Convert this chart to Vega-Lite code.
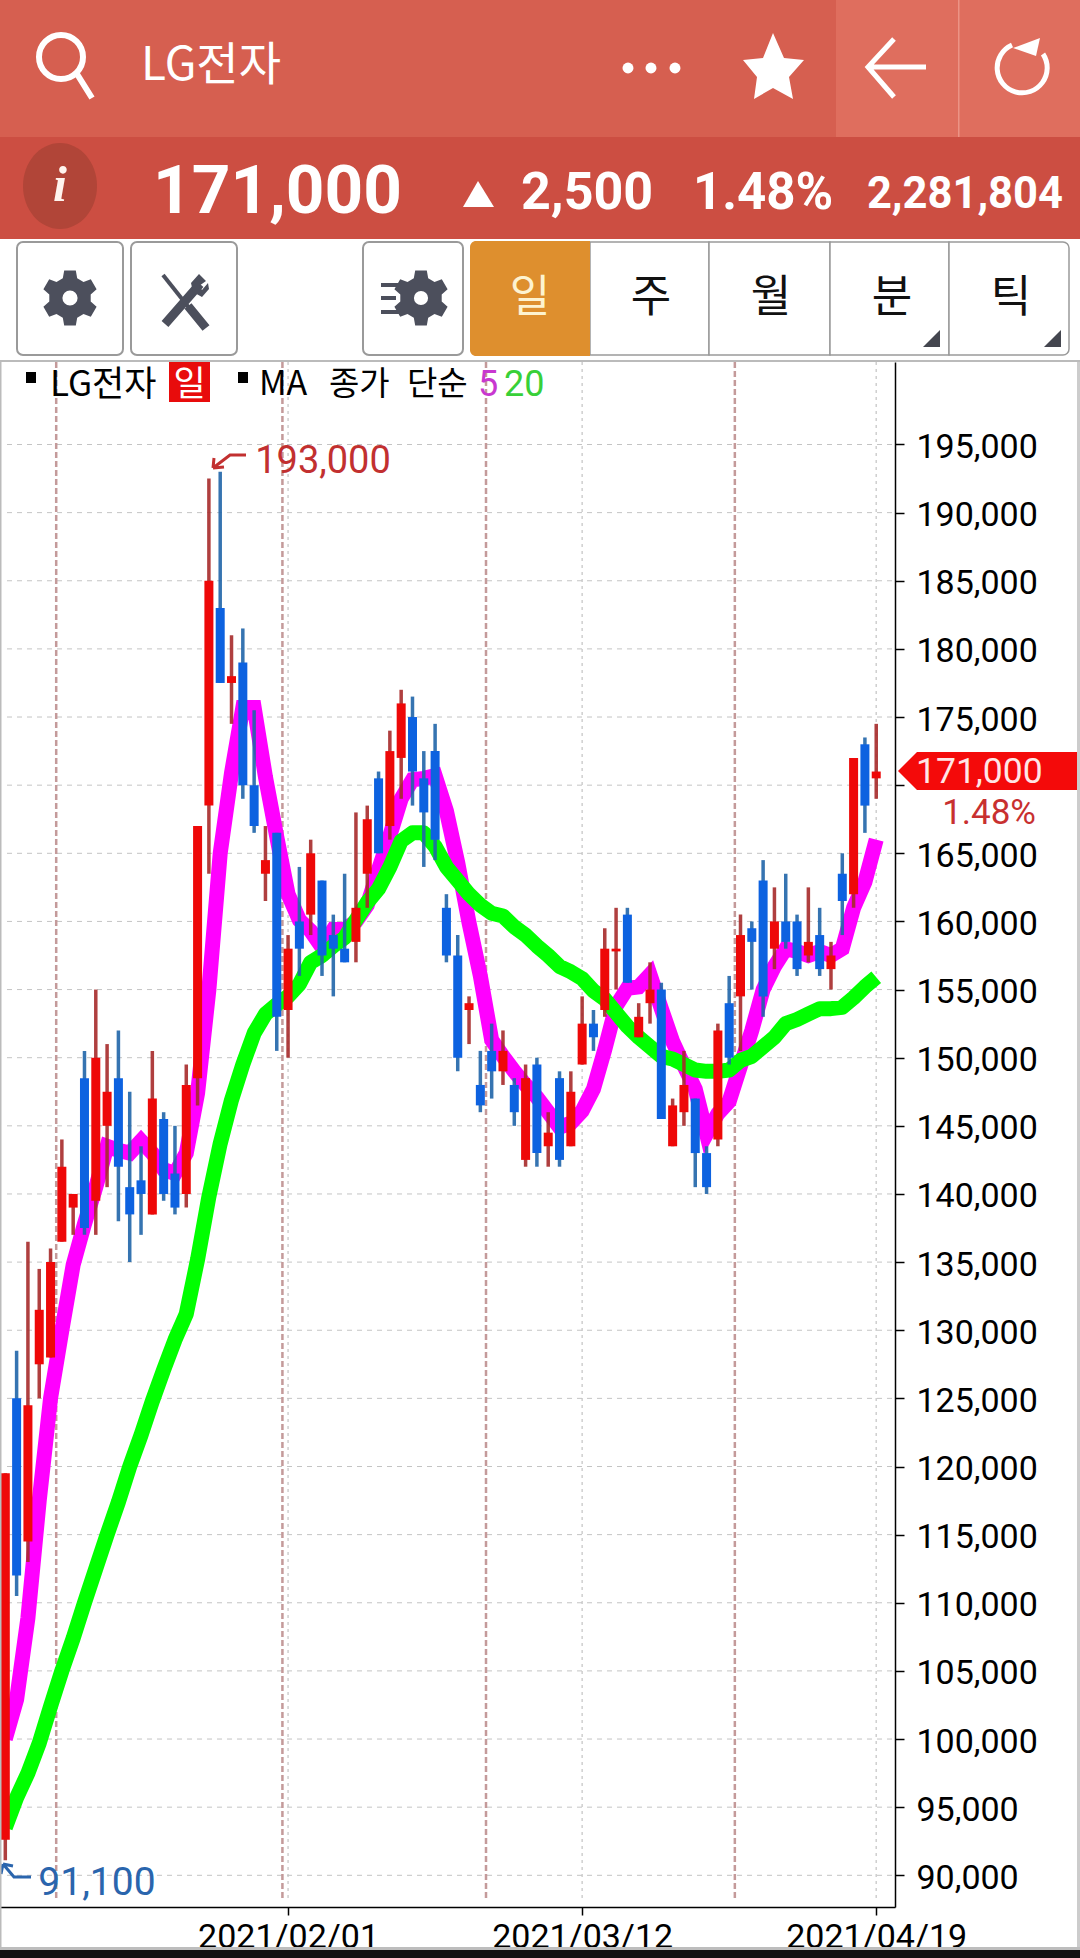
{"$schema":"https://vega.github.io/schema/vega-lite/v6.json","width":1080,"height":1958,"padding":0,"autosize":{"type":"none"},"background":"#ffffff","config":{"view":{"stroke":null},"axis":{"grid":false,"title":null}},
"resolve":{"axis":{"x":"independent","y":"independent"}},
"data":{"values":[{"k":1}]},
"datasets":{"candles":[
{"date":"2020-12-23","i":0,"open":92600,"high":119500,"low":91100,"close":119500,"ma5":100000,"ma20":93500},
{"date":"2020-12-24","i":1,"open":125000,"high":128500,"low":110500,"close":112000,"ma5":102900,"ma20":95700},
{"date":"2020-12-28","i":2,"open":114500,"high":136500,"low":113000,"close":124500,"ma5":108900,"ma20":97500},
{"date":"2020-12-29","i":3,"open":127500,"high":134500,"low":125000,"close":131500,"ma5":117500,"ma20":99700},
{"date":"2020-12-30","i":4,"open":128000,"high":136000,"low":128000,"close":135000,"ma5":125000,"ma20":102400},
{"date":"2021-01-04","i":5,"open":136500,"high":144000,"low":136500,"close":142000,"ma5":130000,"ma20":105000},
{"date":"2021-01-05","i":6,"open":139000,"high":140000,"low":137000,"close":140000,"ma5":134800,"ma20":107400},
{"date":"2021-01-06","i":7,"open":148500,"high":150500,"low":137000,"close":137500,"ma5":137800,"ma20":110000},
{"date":"2021-01-07","i":8,"open":139500,"high":155000,"low":137000,"close":150000,"ma5":140500,"ma20":112500},
{"date":"2021-01-08","i":9,"open":145000,"high":151000,"low":140500,"close":147500,"ma5":143500,"ma20":115000},
{"date":"2021-01-11","i":10,"open":148500,"high":152000,"low":138000,"close":142000,"ma5":143200,"ma20":117400},
{"date":"2021-01-12","i":11,"open":140500,"high":147500,"low":135000,"close":138500,"ma5":143000,"ma20":120000},
{"date":"2021-01-13","i":12,"open":141000,"high":143500,"low":137000,"close":140000,"ma5":143900,"ma20":122300},
{"date":"2021-01-14","i":13,"open":138500,"high":150500,"low":138500,"close":147000,"ma5":143000,"ma20":124800},
{"date":"2021-01-15","i":14,"open":145500,"high":146000,"low":139500,"close":140000,"ma5":141800,"ma20":127100},
{"date":"2021-01-18","i":15,"open":141500,"high":145000,"low":138500,"close":139000,"ma5":141500,"ma20":129300},
{"date":"2021-01-19","i":16,"open":140000,"high":149500,"low":139000,"close":148000,"ma5":143000,"ma20":131200},
{"date":"2021-01-20","i":17,"open":148500,"high":167000,"low":146500,"close":167000,"ma5":147400,"ma20":135200},
{"date":"2021-01-21","i":18,"open":168500,"high":192500,"low":163500,"close":185000,"ma5":155000,"ma20":139800},
{"date":"2021-01-22","i":19,"open":183000,"high":193000,"low":177500,"close":177500,"ma5":165000,"ma20":143700},
{"date":"2021-01-25","i":20,"open":177500,"high":181000,"low":174500,"close":178000,"ma5":170900,"ma20":146900},
{"date":"2021-01-26","i":21,"open":179000,"high":181500,"low":169000,"close":170000,"ma5":175700,"ma20":149500},
{"date":"2021-01-27","i":22,"open":170000,"high":175500,"low":166500,"close":167000,"ma5":175700,"ma20":151800},
{"date":"2021-01-28","i":23,"open":163500,"high":167000,"low":161500,"close":164500,"ma5":170600,"ma20":153200},
{"date":"2021-01-29","i":24,"open":166500,"high":166500,"low":150500,"close":153000,"ma5":166200,"ma20":153900},
{"date":"2021-02-01","i":25,"open":153500,"high":159000,"low":150000,"close":158000,"ma5":162000,"ma20":154500},
{"date":"2021-02-02","i":26,"open":160000,"high":164000,"low":156000,"close":158000,"ma5":160100,"ma20":155400},
{"date":"2021-02-03","i":27,"open":160500,"high":166000,"low":159000,"close":165000,"ma5":159300,"ma20":157000},
{"date":"2021-02-04","i":28,"open":163000,"high":163000,"low":156000,"close":157500,"ma5":158100,"ma20":157500},
{"date":"2021-02-05","i":29,"open":159000,"high":160500,"low":154500,"close":158000,"ma5":159400,"ma20":158200},
{"date":"2021-02-08","i":30,"open":158000,"high":163500,"low":157000,"close":157000,"ma5":159400,"ma20":158800},
{"date":"2021-02-09","i":31,"open":158500,"high":168000,"low":157000,"close":161000,"ma5":160000,"ma20":160100},
{"date":"2021-02-10","i":32,"open":163500,"high":168500,"low":161000,"close":167500,"ma5":161200,"ma20":161400},
{"date":"2021-02-15","i":33,"open":170500,"high":171000,"low":165000,"close":165000,"ma5":163800,"ma20":162400},
{"date":"2021-02-16","i":34,"open":167000,"high":174000,"low":166000,"close":172500,"ma5":166300,"ma20":164000},
{"date":"2021-02-17","i":35,"open":172000,"high":177000,"low":169000,"close":176000,"ma5":169000,"ma20":165900},
{"date":"2021-02-18","i":36,"open":175000,"high":176500,"low":168500,"close":171000,"ma5":170400,"ma20":166500},
{"date":"2021-02-19","i":37,"open":170500,"high":172500,"low":164000,"close":168000,"ma5":170500,"ma20":166500},
{"date":"2021-02-22","i":38,"open":172500,"high":174500,"low":164500,"close":166000,"ma5":170700,"ma20":165500},
{"date":"2021-02-23","i":39,"open":161000,"high":162000,"low":157000,"close":157500,"ma5":168100,"ma20":164000},
{"date":"2021-02-24","i":40,"open":157500,"high":159000,"low":149000,"close":150000,"ma5":164300,"ma20":163000},
{"date":"2021-02-25","i":41,"open":153500,"high":154500,"low":151000,"close":154000,"ma5":159900,"ma20":162000},
{"date":"2021-02-26","i":42,"open":148000,"high":150500,"low":146000,"close":146500,"ma5":156000,"ma20":161200},
{"date":"2021-03-02","i":43,"open":150500,"high":152500,"low":147000,"close":149000,"ma5":151300,"ma20":160600},
{"date":"2021-03-03","i":44,"open":149000,"high":152000,"low":148000,"close":150500,"ma5":150100,"ma20":160400},
{"date":"2021-03-04","i":45,"open":148000,"high":148500,"low":145000,"close":146000,"ma5":149000,"ma20":159600},
{"date":"2021-03-05","i":46,"open":142500,"high":149500,"low":142000,"close":148500,"ma5":148000,"ma20":159000},
{"date":"2021-03-08","i":47,"open":149500,"high":150000,"low":142000,"close":143000,"ma5":147100,"ma20":158200},
{"date":"2021-03-09","i":48,"open":143500,"high":146000,"low":142000,"close":144500,"ma5":146000,"ma20":157500},
{"date":"2021-03-10","i":49,"open":148500,"high":149000,"low":142000,"close":142500,"ma5":144900,"ma20":156700},
{"date":"2021-03-11","i":50,"open":143500,"high":149000,"low":143500,"close":147500,"ma5":145200,"ma20":156300},
{"date":"2021-03-12","i":51,"open":149500,"high":154500,"low":149500,"close":152500,"ma5":146100,"ma20":155800},
{"date":"2021-03-15","i":52,"open":152500,"high":153500,"low":150500,"close":151500,"ma5":147700,"ma20":154900},
{"date":"2021-03-16","i":53,"open":153500,"high":159500,"low":153000,"close":158000,"ma5":150600,"ma20":154300},
{"date":"2021-03-17","i":54,"open":157800,"high":161000,"low":155000,"close":158000,"ma5":153800,"ma20":153300},
{"date":"2021-03-18","i":55,"open":160500,"high":161000,"low":155500,"close":155500,"ma5":155100,"ma20":152300},
{"date":"2021-03-19","i":56,"open":151500,"high":154000,"low":151500,"close":153000,"ma5":155200,"ma20":151500},
{"date":"2021-03-22","i":57,"open":154000,"high":157000,"low":152500,"close":155000,"ma5":156100,"ma20":150800},
{"date":"2021-03-23","i":58,"open":155000,"high":155500,"low":145500,"close":145500,"ma5":153600,"ma20":150100},
{"date":"2021-03-24","i":59,"open":143500,"high":147000,"low":143500,"close":146500,"ma5":151200,"ma20":149900},
{"date":"2021-03-25","i":60,"open":146000,"high":150500,"low":145000,"close":148000,"ma5":149400,"ma20":149500},
{"date":"2021-03-26","i":61,"open":147000,"high":147000,"low":140500,"close":143000,"ma5":147700,"ma20":149100},
{"date":"2021-03-29","i":62,"open":143000,"high":143500,"low":140000,"close":140500,"ma5":144400,"ma20":149000},
{"date":"2021-03-30","i":63,"open":144000,"high":152500,"low":143500,"close":152000,"ma5":145900,"ma20":149000},
{"date":"2021-03-31","i":64,"open":154000,"high":156000,"low":149500,"close":150000,"ma5":146800,"ma20":149100},
{"date":"2021-04-01","i":65,"open":154500,"high":160500,"low":150500,"close":159000,"ma5":149400,"ma20":149800},
{"date":"2021-04-02","i":66,"open":159500,"high":160000,"low":155000,"close":158500,"ma5":152000,"ma20":150100},
{"date":"2021-04-05","i":67,"open":163000,"high":164500,"low":153000,"close":154500,"ma5":155000,"ma20":150800},
{"date":"2021-04-06","i":68,"open":158000,"high":162500,"low":156500,"close":160000,"ma5":156700,"ma20":151500},
{"date":"2021-04-07","i":69,"open":160000,"high":163500,"low":158000,"close":158500,"ma5":158000,"ma20":152500},
{"date":"2021-04-08","i":70,"open":160000,"high":160500,"low":156000,"close":156500,"ma5":157800,"ma20":152800},
{"date":"2021-04-09","i":71,"open":157500,"high":162500,"low":157000,"close":158500,"ma5":157500,"ma20":153200},
{"date":"2021-04-12","i":72,"open":159000,"high":161000,"low":156000,"close":156500,"ma5":157800,"ma20":153600},
{"date":"2021-04-13","i":73,"open":156500,"high":158500,"low":155000,"close":157500,"ma5":157500,"ma20":153600},
{"date":"2021-04-14","i":74,"open":163500,"high":165000,"low":159000,"close":161500,"ma5":158000,"ma20":153700},
{"date":"2021-04-15","i":75,"open":162000,"high":172000,"low":161000,"close":172000,"ma5":161000,"ma20":154400},
{"date":"2021-04-16","i":76,"open":173000,"high":173500,"low":166500,"close":168500,"ma5":162900,"ma20":155200},
{"date":"2021-04-19","i":77,"open":170500,"high":174500,"low":169000,"close":171000,"ma5":166000,"ma20":155900}
],
"priceTicks":[{"price":90000},{"price":95000},{"price":100000},{"price":105000},{"price":110000},{"price":115000},{"price":120000},{"price":125000},{"price":130000},{"price":135000},{"price":140000},{"price":145000},{"price":150000},{"price":155000},{"price":160000},{"price":165000},{"price":170000},{"price":175000},{"price":180000},{"price":185000},{"price":190000},{"price":195000}],
"dateTicks":[{"i":25,"date":"2021/02/01"},{"i":51,"date":"2021/03/12"},{"i":77,"date":"2021/04/19"}],
"monthBreaks":[{"i":4.5},{"i":24.5},{"i":42.5},{"i":64.5}]},
"layer":[
{"data":{"name":"dateTicks"},"mark":{"type":"rule","stroke":"#cfcfcf","strokeWidth":1.5,"strokeDash":[3,4]},"encoding":{"x":{"field":"i","type":"quantitative","scale":{"domain":[-0.469,78.66],"range":[0,895],"nice":false,"zero":false,"padding":0},"axis":{"values":[25,51,77],"orient":"bottom","offset":-51,"domainColor":"#000000","domainWidth":1.5,"tickColor":"#000000","tickSize":8,"tickWidth":1.5,"labelFont":"Roboto","labelFontSize":34,"labelColor":"#000000","labelPadding":5,"labelLimit":400,"labelOverlap":false,"labelBound":false,"labelFlush":false,"labelExpr":"datum.value==25?'2021/02/01':datum.value==51?'2021/03/12':'2021/04/19'"}},"y":{"value":362},"y2":{"value":1900}}},
{"data":{"name":"priceTicks"},"mark":{"type":"rule","stroke":"#c4c4c4","strokeWidth":1,"strokeDash":[5,5]},"encoding":{"y":{"field":"price","type":"quantitative","scale":{"domain":[87674,201054],"range":[1907,362],"nice":false,"zero":false},"axis":{"values":[90000,95000,100000,105000,110000,115000,120000,125000,130000,135000,140000,145000,150000,155000,160000,165000,170000,175000,180000,185000,190000,195000],"orient":"right","offset":-185,"domainColor":"#000000","domainWidth":1.5,"tickColor":"#000000","tickSize":9,"tickWidth":1.5,"labelFont":"Roboto","labelFontSize":34,"labelColor":"#000000","labelPadding":12,"labelOffset":3,"labelLimit":300,"labelOverlap":false,"labelBound":false,"labelFlush":false,"labelExpr":"datum.value==170000?'':format(datum.value,',d')"}},"x":{"value":7},"x2":{"value":895}}},
{"data":{"name":"monthBreaks"},"mark":{"type":"rule","stroke":"#c49a9a","strokeWidth":2.5,"strokeDash":[6,3]},"encoding":{"x":{"field":"i","type":"quantitative","axis":null},"y":{"value":362},"y2":{"value":1899}}},
{"data":{"name":"candles"},"mark":{"type":"line","stroke":"#ff00ff","strokeWidth":15,"strokeCap":"butt","strokeJoin":"miter"},"encoding":{"x":{"field":"i","type":"quantitative","axis":null},"y":{"field":"ma5","type":"quantitative","axis":null}}},
{"data":{"name":"candles"},"mark":{"type":"line","stroke":"#00ff00","strokeWidth":15,"strokeCap":"butt","strokeJoin":"round"},"encoding":{"x":{"field":"i","type":"quantitative","axis":null},"y":{"field":"ma20","type":"quantitative","axis":null}}},
{"data":{"name":"candles"},"mark":{"type":"rule","strokeWidth":3.5,"opacity":0.9},"encoding":{"x":{"field":"i","type":"quantitative","axis":null},"y":{"field":"low","type":"quantitative","axis":null},"y2":{"field":"high"},"color":{"condition":{"test":"datum.close>=datum.open","value":"#a62a2a"},"value":"#2065a8"}}},
{"data":{"name":"candles"},"mark":{"type":"bar","orient":"vertical","size":9},"encoding":{"x":{"field":"i","type":"quantitative","axis":null},"y":{"field":"open","type":"quantitative","axis":null},"y2":{"field":"close"},"color":{"condition":{"test":"datum.close>=datum.open","value":"#ee0808"},"value":"#0d62e0"}}},
{"data":{"values":[{"i":19,"price":193000,"label":"193,000"}]},"mark":{"type":"text","font":"Roboto","fontSize":38,"color":"#c23030","align":"left","baseline":"alphabetic","dx":35,"dy":1},"encoding":{"x":{"field":"i","type":"quantitative","axis":null},"y":{"field":"price","type":"quantitative","axis":null},"text":{"field":"label"}}},
{"data":{"values":[{"i":0,"price":91100,"label":"91,100"}]},"mark":{"type":"text","font":"Roboto","fontSize":39,"color":"#2a65ad","align":"left","baseline":"alphabetic","dx":33,"dy":35},"encoding":{"x":{"field":"i","type":"quantitative","axis":null},"y":{"field":"price","type":"quantitative","axis":null},"text":{"field":"label"}}},
{"mark":{"type":"point","filled":false,"stroke":"#c23030","strokeWidth":3,"opacity":1},"encoding":{"x":{"value":0},"y":{"value":0},"size":{"value":4},"shape":{"value":"M246 455L230 455L213 468M213 468L214 458M213 468L224 467"}}},
{"mark":{"type":"point","filled":false,"stroke":"#2a65ad","strokeWidth":3,"opacity":1},"encoding":{"x":{"value":0},"y":{"value":0},"size":{"value":4},"shape":{"value":"M31 1877L14 1877L3 1864M3 1864L1 1874M3 1864L13 1866"}}},
{"mark":{"type":"point","filled":true,"fill":"#f40a0a","stroke":null,"opacity":1},"encoding":{"x":{"value":0},"y":{"value":0},"size":{"value":4},"shape":{"value":"M898 771L917 752L1078 752L1078 790L917 790Z"}}},
{"mark":{"type":"text","text":"171,000","font":"Roboto","fontSize":35.5,"color":"#ffe6e6","align":"left","baseline":"middle"},"encoding":{"x":{"value":916},"y":{"datum":171000,"type":"quantitative","axis":null}}},
{"mark":{"type":"text","text":"1.48%","font":"Roboto","fontSize":35,"color":"#c83030","align":"right","baseline":"middle"},"encoding":{"x":{"value":1036},"y":{"value":813}}},
{"mark":{"type":"rect","fill":"#bbbbbb"},"encoding":{"x":{"value":0},"x2":{"value":1.5},"y":{"value":362},"y2":{"value":1947}}},
{"mark":{"type":"rect","fill":"#cccccc"},"encoding":{"x":{"value":1077},"x2":{"value":1080},"y":{"value":362},"y2":{"value":1947}}},
{"mark":{"type":"rect","fill":"#bbbbbb"},"encoding":{"x":{"value":0},"x2":{"value":1080},"y":{"value":360},"y2":{"value":362}}},
{"mark":{"type":"rect","fill":"#bdbdbd"},"encoding":{"x":{"value":0},"x2":{"value":1080},"y":{"value":1947},"y2":{"value":1950}}},
{"mark":{"type":"rect","fill":"#111111"},"encoding":{"x":{"value":0},"x2":{"value":1080},"y":{"value":1950},"y2":{"value":1958}}},
{"mark":{"type":"rect","fill":"#d65f50"},"encoding":{"x":{"value":0},"x2":{"value":836},"y":{"value":0},"y2":{"value":137}}},
{"mark":{"type":"rect","fill":"#df6e5e"},"encoding":{"x":{"value":836},"x2":{"value":1080},"y":{"value":0},"y2":{"value":137}}},
{"mark":{"type":"rect","fill":"#ec9385"},"encoding":{"x":{"value":958},"x2":{"value":959.5},"y":{"value":0},"y2":{"value":137}}},
{"mark":{"type":"rect","fill":"#cc4e42"},"encoding":{"x":{"value":0},"x2":{"value":1080},"y":{"value":137},"y2":{"value":239}}},
{"mark":{"type":"point","filled":false,"stroke":"#ffffff","strokeWidth":6,"opacity":1},"encoding":{"x":{"value":0},"y":{"value":0},"size":{"value":4},"shape":{"value":"M83 57A22 22 0 1 1 39 57A22 22 0 1 1 83 57M77 74L92 98"}}},
{"mark":{"type":"text","text":"LG전자","font":"Noto Sans CJK KR","fontSize":46,"color":"#ffffff","align":"left","baseline":"middle"},"encoding":{"x":{"value":141},"y":{"value":66}}},
{"mark":{"type":"point","filled":true,"fill":"#ffffff","stroke":null,"opacity":1,"shape":"circle"},"encoding":{"x":{"value":628},"y":{"value":68},"size":{"value":120}}},
{"mark":{"type":"point","filled":true,"fill":"#ffffff","stroke":null,"opacity":1,"shape":"circle"},"encoding":{"x":{"value":651},"y":{"value":68},"size":{"value":120}}},
{"mark":{"type":"point","filled":true,"fill":"#ffffff","stroke":null,"opacity":1,"shape":"circle"},"encoding":{"x":{"value":675},"y":{"value":68},"size":{"value":120}}},
{"mark":{"type":"point","filled":true,"fill":"#ffffff","stroke":null,"opacity":1},"encoding":{"x":{"value":0},"y":{"value":0},"size":{"value":4},"shape":{"value":"M773 33L784 58L804 60L789 77L793 99L773 88L754 99L757 77L743 60L763 58Z"}}},
{"mark":{"type":"point","filled":false,"stroke":"#ffffff","strokeWidth":5,"opacity":1},"encoding":{"x":{"value":0},"y":{"value":0},"size":{"value":4},"shape":{"value":"M926 67L868 67M894 39L868 67L894 97"}}},
{"mark":{"type":"point","filled":false,"stroke":"#ffffff","strokeWidth":5,"opacity":1},"encoding":{"x":{"value":0},"y":{"value":0},"size":{"value":4},"shape":{"value":"M1012 45A25 25 0 1 0 1043 54"}}},
{"mark":{"type":"point","filled":true,"fill":"#ffffff","stroke":null,"opacity":1},"encoding":{"x":{"value":0},"y":{"value":0},"size":{"value":4},"shape":{"value":"M1040 38L1036 56L1013 48Z"}}},
{"mark":{"type":"point","filled":true,"fill":"#b14538","stroke":null,"opacity":1},"encoding":{"x":{"value":0},"y":{"value":0},"size":{"value":4},"shape":{"value":"M23 186A37 43 0 1 1 97 186A37 43 0 1 1 23 186Z"}}},
{"mark":{"type":"text","text":"i","font":"Liberation Serif","fontStyle":"italic","fontWeight":"bold","fontSize":50,"color":"#fff4ee","align":"center","baseline":"middle"},"encoding":{"x":{"value":60},"y":{"value":186}}},
{"mark":{"type":"text","text":"171,000","font":"Roboto","fontWeight":"bold","fontSize":67.5,"color":"#ffffff","align":"left","baseline":"alphabetic"},"encoding":{"x":{"value":153},"y":{"value":213}}},
{"mark":{"type":"point","filled":true,"fill":"#ffffff","stroke":null,"opacity":1},"encoding":{"x":{"value":0},"y":{"value":0},"size":{"value":4},"shape":{"value":"M478 181L494 207L463 207Z"}}},
{"mark":{"type":"text","text":"2,500","font":"Roboto","fontWeight":"bold","fontSize":52,"color":"#ffffff","align":"left","baseline":"alphabetic"},"encoding":{"x":{"value":521},"y":{"value":209}}},
{"mark":{"type":"text","text":"1.48%","font":"Roboto","fontWeight":"bold","fontSize":51,"color":"#ffffff","align":"left","baseline":"alphabetic"},"encoding":{"x":{"value":693},"y":{"value":209}}},
{"mark":{"type":"text","text":"2,281,804","font":"Roboto","fontWeight":"bold","fontSize":43.5,"color":"#ffffff","align":"right","baseline":"alphabetic"},"encoding":{"x":{"value":1063},"y":{"value":208}}},
{"mark":{"type":"rect","fill":"#ffffff","stroke":"#9a9a9a","strokeWidth":2,"cornerRadius":6},"encoding":{"x":{"value":17},"x2":{"value":123},"y":{"value":242},"y2":{"value":355}}},
{"mark":{"type":"rect","fill":"#ffffff","stroke":"#9a9a9a","strokeWidth":2,"cornerRadius":6},"encoding":{"x":{"value":131},"x2":{"value":237},"y":{"value":242},"y2":{"value":355}}},
{"mark":{"type":"rect","fill":"#ffffff","stroke":"#9a9a9a","strokeWidth":2,"cornerRadius":6},"encoding":{"x":{"value":363},"x2":{"value":463},"y":{"value":242},"y2":{"value":355}}},
{"mark":{"type":"rect","fill":"#ffffff","stroke":"#9a9a9a","strokeWidth":1.5},"encoding":{"x":{"value":590},"x2":{"value":709},"y":{"value":242},"y2":{"value":355}}},
{"mark":{"type":"rect","fill":"#ffffff","stroke":"#9a9a9a","strokeWidth":1.5},"encoding":{"x":{"value":709},"x2":{"value":830},"y":{"value":242},"y2":{"value":355}}},
{"mark":{"type":"rect","fill":"#ffffff","stroke":"#9a9a9a","strokeWidth":1.5},"encoding":{"x":{"value":830},"x2":{"value":949},"y":{"value":242},"y2":{"value":355}}},
{"mark":{"type":"rect","fill":"#ffffff","stroke":"#9a9a9a","strokeWidth":1.5,"cornerRadiusTopRight":6,"cornerRadiusBottomRight":6},"encoding":{"x":{"value":949},"x2":{"value":1069},"y":{"value":242},"y2":{"value":355}}},
{"mark":{"type":"rect","fill":"#de8f2e","cornerRadiusTopLeft":6,"cornerRadiusBottomLeft":6},"encoding":{"x":{"value":470},"x2":{"value":590},"y":{"value":241},"y2":{"value":356}}},
{"mark":{"type":"point","filled":true,"fill":"#4c4f5c","stroke":null,"opacity":1},"encoding":{"x":{"value":70},"y":{"value":298},"size":{"value":4},"shape":{"value":"M-5.8 -27.4L5.8 -27.4L7.2 -19.7L13.5 -16.1L20.8 -18.7L26.6 -8.7L20.7 -3.6L20.7 3.6L26.6 8.7L20.8 18.7L13.5 16.1L7.2 19.7L5.8 27.4L-5.8 27.4L-7.2 19.7L-13.5 16.1L-20.8 18.7L-26.6 8.7L-20.7 3.6L-20.7 -3.6L-26.6 -8.7L-20.8 -18.7L-13.5 -16.1L-7.2 -19.7Z"}}},
{"mark":{"type":"point","filled":true,"fill":"#ffffff","stroke":null,"opacity":1,"shape":"circle"},"encoding":{"x":{"value":70},"y":{"value":298},"size":{"value":230}}},
{"mark":{"type":"point","filled":true,"fill":"#4c4f5c","stroke":null,"opacity":1},"encoding":{"x":{"value":421},"y":{"value":298},"size":{"value":4},"shape":{"value":"M-5.8 -27.4L5.8 -27.4L7.2 -19.7L13.5 -16.1L20.8 -18.7L26.6 -8.7L20.7 -3.6L20.7 3.6L26.6 8.7L20.8 18.7L13.5 16.1L7.2 19.7L5.8 27.4L-5.8 27.4L-7.2 19.7L-13.5 16.1L-20.8 18.7L-26.6 8.7L-20.7 3.6L-20.7 -3.6L-26.6 -8.7L-20.8 -18.7L-13.5 -16.1L-7.2 -19.7Z"}}},
{"mark":{"type":"point","filled":true,"fill":"#ffffff","stroke":null,"opacity":1,"shape":"circle"},"encoding":{"x":{"value":421},"y":{"value":298},"size":{"value":200}}},
{"mark":{"type":"point","filled":false,"stroke":"#4c4f5c","strokeWidth":4,"opacity":1},"encoding":{"x":{"value":0},"y":{"value":0},"size":{"value":4},"shape":{"value":"M381 285L400 285M381 298L396 298M381 312L400 312"}}},
{"mark":{"type":"point","filled":false,"stroke":"#4c4f5c","strokeWidth":4,"opacity":1},"encoding":{"x":{"value":0},"y":{"value":0},"size":{"value":4},"shape":{"value":"M163 275L190 309"}}},
{"mark":{"type":"point","filled":false,"stroke":"#4c4f5c","strokeWidth":9,"opacity":1},"encoding":{"x":{"value":0},"y":{"value":0},"size":{"value":4},"shape":{"value":"M188 306L206 328M200 284L165 324"}}},
{"mark":{"type":"point","filled":true,"fill":"#4c4f5c","stroke":null,"opacity":1},"encoding":{"x":{"value":0},"y":{"value":0},"size":{"value":4},"shape":{"value":"M199 274L206 281L199 286L202 290L208 283L209 289L202 297L193 292L191 283Z"}}},
{"mark":{"type":"text","text":"일","font":"Noto Sans CJK KR","fontSize":44,"color":"#fdf3d0","align":"center","baseline":"middle"},"encoding":{"x":{"value":530},"y":{"value":299}}},
{"mark":{"type":"text","text":"주","font":"Noto Sans CJK KR","fontSize":44,"color":"#111111","align":"center","baseline":"middle"},"encoding":{"x":{"value":651},"y":{"value":299}}},
{"mark":{"type":"text","text":"월","font":"Noto Sans CJK KR","fontSize":44,"color":"#111111","align":"center","baseline":"middle"},"encoding":{"x":{"value":771},"y":{"value":299}}},
{"mark":{"type":"text","text":"분","font":"Noto Sans CJK KR","fontSize":44,"color":"#111111","align":"center","baseline":"middle"},"encoding":{"x":{"value":892},"y":{"value":299}}},
{"mark":{"type":"text","text":"틱","font":"Noto Sans CJK KR","fontSize":44,"color":"#111111","align":"center","baseline":"middle"},"encoding":{"x":{"value":1011},"y":{"value":299}}},
{"mark":{"type":"point","filled":true,"fill":"#44464f","stroke":null,"opacity":1},"encoding":{"x":{"value":0},"y":{"value":0},"size":{"value":4},"shape":{"value":"M940 330L940 347L923 347Z"}}},
{"mark":{"type":"point","filled":true,"fill":"#44464f","stroke":null,"opacity":1},"encoding":{"x":{"value":0},"y":{"value":0},"size":{"value":4},"shape":{"value":"M1061 330L1061 347L1044 347Z"}}},
{"mark":{"type":"rect","fill":"#000000"},"encoding":{"x":{"value":26},"x2":{"value":36},"y":{"value":372},"y2":{"value":383}}},
{"mark":{"type":"text","text":"LG전자","font":"Noto Sans CJK KR","fontSize":35,"color":"#000000","align":"left","baseline":"middle"},"encoding":{"x":{"value":50},"y":{"value":385}}},
{"mark":{"type":"rect","fill":"#e80c0c"},"encoding":{"x":{"value":169},"x2":{"value":210},"y":{"value":362},"y2":{"value":402}}},
{"mark":{"type":"text","text":"일","font":"Noto Sans CJK KR","fontSize":35,"color":"#ffffff","align":"center","baseline":"middle"},"encoding":{"x":{"value":189.5},"y":{"value":385}}},
{"mark":{"type":"rect","fill":"#000000"},"encoding":{"x":{"value":238},"x2":{"value":248},"y":{"value":372},"y2":{"value":383}}},
{"mark":{"type":"text","text":"MA","font":"Noto Sans CJK KR","fontSize":34,"color":"#000000","align":"left","baseline":"middle"},"encoding":{"x":{"value":259},"y":{"value":385}}},
{"mark":{"type":"text","text":"종가","font":"Noto Sans CJK KR","fontSize":33,"color":"#000000","align":"left","baseline":"middle"},"encoding":{"x":{"value":329},"y":{"value":385}}},
{"mark":{"type":"text","text":"단순","font":"Noto Sans CJK KR","fontSize":33,"color":"#000000","align":"left","baseline":"middle"},"encoding":{"x":{"value":407},"y":{"value":385}}},
{"mark":{"type":"text","text":"5","font":"Roboto","fontSize":36,"color":"#c837d0","align":"left","baseline":"middle"},"encoding":{"x":{"value":478},"y":{"value":385}}},
{"mark":{"type":"text","text":"20","font":"Roboto","fontSize":36,"color":"#38d038","align":"left","baseline":"middle"},"encoding":{"x":{"value":504},"y":{"value":385}}}
]}
